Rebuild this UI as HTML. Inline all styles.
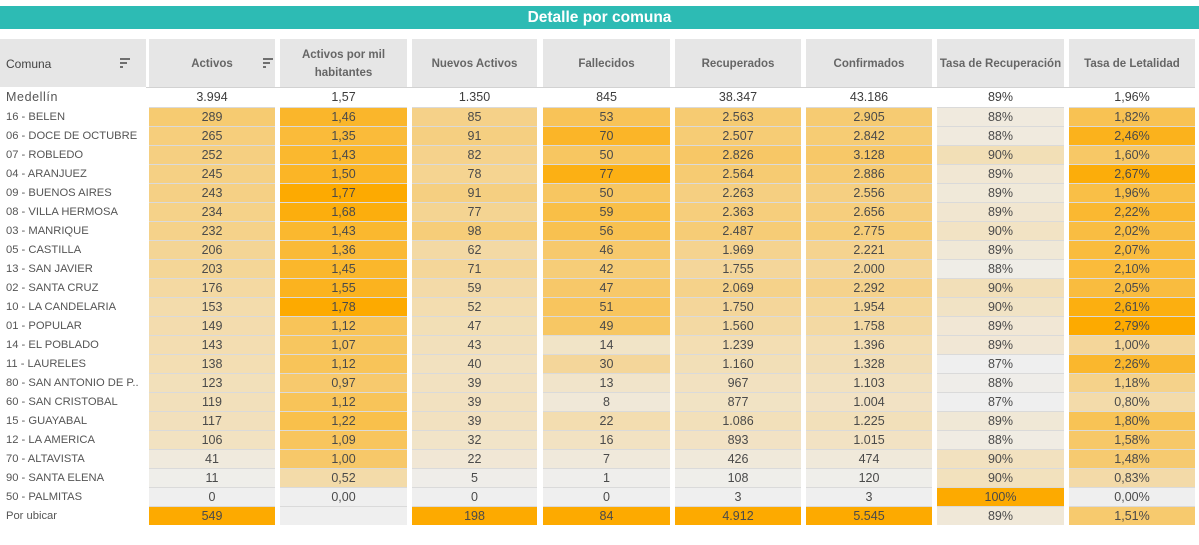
<!DOCTYPE html>
<html><head><meta charset="utf-8">
<style>
*{margin:0;padding:0;box-sizing:content-box}
html,body{width:1199px;height:545px;background:#fff;overflow:hidden;font-family:"Liberation Sans",Arial,sans-serif}
.title{position:absolute;left:0;top:6px;width:1199px;height:23px;background:#2dbbb4;color:#fff;font-weight:bold;font-size:15.5px;line-height:23px;text-align:center}
.h{position:absolute;top:39px;height:46px;padding-top:2px;background:#e6e6e6;color:#666;font-weight:bold;font-size:11.5px;text-align:center;display:flex;align-items:center;justify-content:center;line-height:18px}
.hline{position:absolute;top:87px;left:146px;width:1049px;height:1px;background:#d2d2d2}
.sort{position:absolute;width:11px;height:11px}
.sort i{position:absolute;left:0;height:2px;background:#6f6f6f}
.r{position:absolute;left:0;width:1199px;height:19px}
.r .l{position:absolute;left:6px;top:1px;line-height:18px;font-size:11.2px;color:#555;white-space:nowrap}
.r b{position:absolute;top:0;height:18px;border-top:1px solid #dadada;line-height:18px;text-align:center;font-weight:normal;font-size:12.5px;color:#4a4a4a}
.m b{border-top:none;height:19px;line-height:19px;color:#3c3c3c}
.m .l{top:0;line-height:19px}
.c1{left:149px;width:126px}
.c2{left:280px;width:127px}
.c3{left:412px;width:125px}
.c4{left:543px;width:127px}
.c5{left:675px;width:126px}
.c6{left:806px;width:126px}
.c7{left:937px;width:127px}
.c8{left:1069px;width:126px}
</style></head><body>
<div class="title">Detalle por comuna</div>

<div class="h" style="left:0;width:146px;justify-content:flex-start;font-weight:normal;font-size:12px;color:#444"><span style="padding-left:6px">Comuna</span></div>
<div class="sort" style="left:120px;top:58px"><i style="top:0;width:10px"></i><i style="top:4px;width:7px"></i><i style="top:8px;width:3px"></i></div>
<div class="h c1">Activos</div>
<div class="sort" style="left:263px;top:58px"><i style="top:0;width:10px"></i><i style="top:4px;width:7px"></i><i style="top:8px;width:3px"></i></div>
<div class="h c2">Activos por mil<br>habitantes</div>
<div class="h c3">Nuevos Activos</div>
<div class="h c4">Fallecidos</div>
<div class="h c5">Recuperados</div>
<div class="h c6">Confirmados</div>
<div class="h c7">Tasa de Recuperación</div>
<div class="h c8">Tasa de Letalidad</div>
<div class="hline"></div>

<div class="r m" style="top:88px"><span class="l" style="font-size:12.5px;letter-spacing:0.6px">Medellín</span><b class="c1">3.994</b><b class="c2">1,57</b><b class="c3">1.350</b><b class="c4">845</b><b class="c5">38.347</b><b class="c6">43.186</b><b class="c7">89%</b><b class="c8">1,96%</b></div>

<div class="r" style="top:107px"><span class="l">16 - BELEN</span><b class="c1" style="background:#f6cb71">289</b><b class="c2" style="background:#fab62b">1,46</b><b class="c3" style="background:#f5d189">85</b><b class="c4" style="background:#f8c358">53</b><b class="c5" style="background:#f6cb72">2.563</b><b class="c6" style="background:#f6cb72">2.905</b><b class="c7" style="background:#f0eade">88%</b><b class="c8" style="background:#f8c253">1,82%</b></div>
<div class="r" style="top:126px"><span class="l">06 - DOCE DE OCTUBRE</span><b class="c1" style="background:#f6ce7c">265</b><b class="c2" style="background:#fabb3a">1,35</b><b class="c3" style="background:#f5cf81">91</b><b class="c4" style="background:#fbb528">70</b><b class="c5" style="background:#f6cc75">2.507</b><b class="c6" style="background:#f6cc74">2.842</b><b class="c7" style="background:#f0eade">88%</b><b class="c8" style="background:#fbb21c">2,46%</b></div>
<div class="r" style="top:145px"><span class="l">07 - ROBLEDO</span><b class="c1" style="background:#f5cf81">252</b><b class="c2" style="background:#fab82f">1,43</b><b class="c3" style="background:#f5d28c">82</b><b class="c4" style="background:#f7c661">50</b><b class="c5" style="background:#f7c766">2.826</b><b class="c6" style="background:#f7c868">3.128</b><b class="c7" style="background:#f2dfb6">90%</b><b class="c8" style="background:#f7c866">1,60%</b></div>
<div class="r" style="top:164px"><span class="l">04 - ARANJUEZ</span><b class="c1" style="background:#f5d084">245</b><b class="c2" style="background:#fbb526">1,50</b><b class="c3" style="background:#f5d491">78</b><b class="c4" style="background:#fcb014">77</b><b class="c5" style="background:#f6cb72">2.564</b><b class="c6" style="background:#f6cb73">2.886</b><b class="c7" style="background:#f1e7d3">89%</b><b class="c8" style="background:#fcad0a">2,67%</b></div>
<div class="r" style="top:183px"><span class="l">09 - BUENOS AIRES</span><b class="c1" style="background:#f5d085">243</b><b class="c2" style="background:#fdaa01">1,77</b><b class="c3" style="background:#f5cf81">91</b><b class="c4" style="background:#f7c661">50</b><b class="c5" style="background:#f5cf81">2.263</b><b class="c6" style="background:#f5cf81">2.556</b><b class="c7" style="background:#f0e9d9">89%</b><b class="c8" style="background:#f9bf47">1,96%</b></div>
<div class="r" style="top:202px"><span class="l">08 - VILLA HERMOSA</span><b class="c1" style="background:#f5d289">234</b><b class="c2" style="background:#fcae0d">1,68</b><b class="c3" style="background:#f4d492">77</b><b class="c4" style="background:#f9bf47">59</b><b class="c5" style="background:#f6ce7c">2.363</b><b class="c6" style="background:#f6ce7d">2.656</b><b class="c7" style="background:#f1e6d0">89%</b><b class="c8" style="background:#fab831">2,22%</b></div>
<div class="r" style="top:221px"><span class="l">03 - MANRIQUE</span><b class="c1" style="background:#f5d28a">232</b><b class="c2" style="background:#fab82f">1,43</b><b class="c3" style="background:#f6cd79">98</b><b class="c4" style="background:#f8c150">56</b><b class="c5" style="background:#f6cc76">2.487</b><b class="c6" style="background:#f6cd78">2.775</b><b class="c7" style="background:#f2e3c4">90%</b><b class="c8" style="background:#f9bd42">2,02%</b></div>
<div class="r" style="top:240px"><span class="l">05 - CASTILLA</span><b class="c1" style="background:#f4d595">206</b><b class="c2" style="background:#faba38">1,36</b><b class="c3" style="background:#f3d9a4">62</b><b class="c4" style="background:#f7c96c">46</b><b class="c5" style="background:#f5d38f">1.969</b><b class="c6" style="background:#f5d38f">2.221</b><b class="c7" style="background:#f0e8d6">89%</b><b class="c8" style="background:#f9bc3e">2,07%</b></div>
<div class="r" style="top:259px"><span class="l">13 - SAN JAVIER</span><b class="c1" style="background:#f4d697">203</b><b class="c2" style="background:#fab72c">1,45</b><b class="c3" style="background:#f4d699">71</b><b class="c4" style="background:#f6cd78">42</b><b class="c5" style="background:#f4d69a">1.755</b><b class="c6" style="background:#f4d699">2.000</b><b class="c7" style="background:#efede7">88%</b><b class="c8" style="background:#fabb3b">2,10%</b></div>
<div class="r" style="top:278px"><span class="l">02 - SANTA CRUZ</span><b class="c1" style="background:#f4d9a2">176</b><b class="c2" style="background:#fbb31f">1,55</b><b class="c3" style="background:#f3daa8">59</b><b class="c4" style="background:#f7c869">47</b><b class="c5" style="background:#f5d28a">2.069</b><b class="c6" style="background:#f5d28c">2.292</b><b class="c7" style="background:#f2dfb8">90%</b><b class="c8" style="background:#f9bc3f">2,05%</b></div>
<div class="r" style="top:297px"><span class="l">10 - LA CANDELARIA</span><b class="c1" style="background:#f3dcac">153</b><b class="c2" style="background:#fdaa00">1,78</b><b class="c3" style="background:#f3ddb0">52</b><b class="c4" style="background:#f8c55e">51</b><b class="c5" style="background:#f4d69a">1.750</b><b class="c6" style="background:#f4d79b">1.954</b><b class="c7" style="background:#f1e3c5">90%</b><b class="c8" style="background:#fcaf10">2,61%</b></div>
<div class="r" style="top:316px"><span class="l">01 - POPULAR</span><b class="c1" style="background:#f3dcae">149</b><b class="c2" style="background:#f8c459">1,12</b><b class="c3" style="background:#f2dfb6">47</b><b class="c4" style="background:#f7c764">49</b><b class="c5" style="background:#f3d9a3">1.560</b><b class="c6" style="background:#f3d9a3">1.758</b><b class="c7" style="background:#f1e7d5">89%</b><b class="c8" style="background:#fdaa00">2,79%</b></div>
<div class="r" style="top:335px"><span class="l">14 - EL POBLADO</span><b class="c1" style="background:#f3ddb1">143</b><b class="c2" style="background:#f7c65f">1,07</b><b class="c3" style="background:#f2e0bb">43</b><b class="c4" style="background:#f1e4c7">14</b><b class="c5" style="background:#f3deb3">1.239</b><b class="c6" style="background:#f3deb3">1.396</b><b class="c7" style="background:#f1e7d5">89%</b><b class="c8" style="background:#f4d69a">1,00%</b></div>
<div class="r" style="top:354px"><span class="l">11 - LAURELES</span><b class="c1" style="background:#f3deb3">138</b><b class="c2" style="background:#f8c459">1,12</b><b class="c3" style="background:#f2e1bf">40</b><b class="c4" style="background:#f4d69a">30</b><b class="c5" style="background:#f2dfb7">1.160</b><b class="c6" style="background:#f2deb6">1.328</b><b class="c7" style="background:#efefef">87%</b><b class="c8" style="background:#fab72d">2,26%</b></div>
<div class="r" style="top:373px"><span class="l">80 - SAN ANTONIO DE P..</span><b class="c1" style="background:#f2e0ba">123</b><b class="c2" style="background:#f7c96d">0,97</b><b class="c3" style="background:#f2e1c0">39</b><b class="c4" style="background:#f1e4ca">13</b><b class="c5" style="background:#f2e1c0">967</b><b class="c6" style="background:#f2e1bf">1.103</b><b class="c7" style="background:#efede9">88%</b><b class="c8" style="background:#f5d28a">1,18%</b></div>
<div class="r" style="top:392px"><span class="l">60 - SAN CRISTOBAL</span><b class="c1" style="background:#f2e0bb">119</b><b class="c2" style="background:#f8c459">1,12</b><b class="c3" style="background:#f2e1c0">39</b><b class="c4" style="background:#f0e8d8">8</b><b class="c5" style="background:#f1e3c4">877</b><b class="c6" style="background:#f2e2c4">1.004</b><b class="c7" style="background:#efefef">87%</b><b class="c8" style="background:#f3dbaa">0,80%</b></div>
<div class="r" style="top:411px"><span class="l">15 - GUAYABAL</span><b class="c1" style="background:#f2e0bc">117</b><b class="c2" style="background:#f9c04b">1,22</b><b class="c3" style="background:#f2e1c0">39</b><b class="c4" style="background:#f3ddb0">22</b><b class="c5" style="background:#f2e0ba">1.086</b><b class="c6" style="background:#f2e0ba">1.225</b><b class="c7" style="background:#f0e8d6">89%</b><b class="c8" style="background:#f8c355">1,80%</b></div>
<div class="r" style="top:430px"><span class="l">12 - LA AMERICA</span><b class="c1" style="background:#f2e2c1">106</b><b class="c2" style="background:#f8c55d">1,09</b><b class="c3" style="background:#f1e4c8">32</b><b class="c4" style="background:#f2e2c2">16</b><b class="c5" style="background:#f2e2c4">893</b><b class="c6" style="background:#f2e2c3">1.015</b><b class="c7" style="background:#f0ece3">88%</b><b class="c8" style="background:#f7c868">1,58%</b></div>
<div class="r" style="top:449px"><span class="l">70 - ALTAVISTA</span><b class="c1" style="background:#f0eadd">41</b><b class="c2" style="background:#f7c869">1,00</b><b class="c3" style="background:#f1e7d5">22</b><b class="c4" style="background:#f0e9db">7</b><b class="c5" style="background:#f0e9da">426</b><b class="c6" style="background:#f0e9da">474</b><b class="c7" style="background:#f2e1bf">90%</b><b class="c8" style="background:#f6ca70">1,48%</b></div>
<div class="r" style="top:468px"><span class="l">90 - SANTA ELENA</span><b class="c1" style="background:#efeeea">11</b><b class="c2" style="background:#f3dba9">0,52</b><b class="c3" style="background:#efede9">5</b><b class="c4" style="background:#efeeec">1</b><b class="c5" style="background:#efeeea">108</b><b class="c6" style="background:#efeeea">120</b><b class="c7" style="background:#f2e1bd">90%</b><b class="c8" style="background:#f3daa8">0,83%</b></div>
<div class="r" style="top:487px"><span class="l">50 - PALMITAS</span><b class="c1" style="background:#efefef">0</b><b class="c2" style="background:#efefef">0,00</b><b class="c3" style="background:#efefef">0</b><b class="c4" style="background:#efefef">0</b><b class="c5" style="background:#efefef">3</b><b class="c6" style="background:#efefef">3</b><b class="c7" style="background:#fdaa00">100%</b><b class="c8" style="background:#efefef">0,00%</b></div>
<div class="r" style="top:506px"><span class="l">Por ubicar</span><b class="c1" style="background:#fdaa00">549</b><b class="c2" style="background:#efefef"></b><b class="c3" style="background:#fdaa00">198</b><b class="c4" style="background:#fdaa00">84</b><b class="c5" style="background:#fdaa00">4.912</b><b class="c6" style="background:#fdaa00">5.545</b><b class="c7" style="background:#f0e8d8">89%</b><b class="c8" style="background:#f7ca6e">1,51%</b></div>
</body></html>
